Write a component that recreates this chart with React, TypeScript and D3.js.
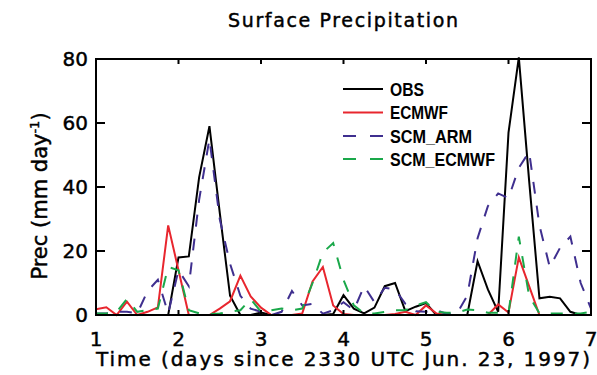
import React from "react";
import * as d3 from "d3";

// 3-hourly samples from day 1 to day 7
const startDay = 1;
const stepDays = 0.125;

const obs = [0, 0, 0, 0, 0, 0, 0, 0, 18, 18.3, 43, 59, 32, 6, 0, 0, 0.8, 0, 0, 0, 0, 0, 0, 0.3, 6.2, 2, 0.5, 2.3, 9, 10, 1.2, 2.6, 3.7, 0, 0, 0, 0, 16.8, 8, 1, 57, 80.5, 42, 5.2, 5.7, 5.2, 1, 0, 0];
const ecmwf = [1.8, 2.4, 0, 4.2, 0, 1, 2.4, 28, 14, 0, 0, 0, 2, 4.3, 12.3, 5.8, 2.3, 0, 0, 0, 0.5, 10.5, 15, 3, 0.3, 0, 0, 0, 0, 0.3, 1, 0, 3, 0.5, 0, 0, 0, 0, 0, 3.3, 0.8, 18, 9, 0, 0, 0, 0, 0, 0];
const scmArm = [0.5, 0.5, 1, 1, 0.5, 7.5, 11, 0.5, 14, 9, 36, 55, 30, 16, 6, 2, 1, 0, 1, 7.5, 3, 3.5, 0.4, 1.5, 4, 1.5, 9, 4, 8.5, 8, 3.5, 1.2, 1, 1.5, 0.3, 0.5, 6, 24, 34, 38, 36.5, 46, 51, 28, 15, 21, 24.5, 10, 2];
const scmEcmwf = [0.5, 0.5, 1, 5, 1, 1.5, 2, 15, 14, 1.5, 0.5, 0.3, 0.5, 1, 1.5, 5, 1, 1.5, 2, 1.5, 2, 10, 19.5, 22.5, 11, 3, 0.5, 0.5, 1, 1.5, 1.5, 3, 4, 1, 0.7, 0.7, 1.7, 1.5, 0.7, 0.7, 0.5, 24.5, 6, 0.5, 0.5, 0.5, 0.5, 0.5, 1];

const xTicks = [1, 2, 3, 4, 5, 6, 7];
const yTicks = [0, 20, 40, 60, 80];

const seriesNames = ["OBS", "ECMWF", "SCM_ARM", "SCM_ECMWF"];
const seriesData = [obs, ecmwf, scmArm, scmEcmwf];
const seriesColors = ["#000000", "#e8262e", "#3f2f8f", "#1aa84a"];
const seriesDash = [null, null, "12,12", "12,12"];
const legendTextLen = [34, 58, 82, 105];

export default function App() {
  const left = 96, right = 591, top = 59, bottom = 315;
  const x = d3.scaleLinear().domain([1, 7]).range([left, right]);
  const y = d3.scaleLinear().domain([0, 80]).range([bottom, top]);
  const line = d3
    .line<number>()
    .x((_, i) => x(startDay + i * stepDays))
    .y((d) => y(d));

  const font = "DejaVu Sans, sans-serif";
  const legendY = [89, 112.5, 136, 159];
  const heavy = { stroke: "#000", strokeWidth: 0.45 };

  return (
    <svg
      width={597}
      height={375}
      style={{ position: "absolute", left: 0, top: 0, background: "#fff" }}
      xmlns="http://www.w3.org/2000/svg"
    >
      <rect x={0} y={0} width={597} height={375} fill="#fff" />
      <text x={343} y={27} fontFamily={font} fontSize={19} textAnchor="middle" textLength={230} fill="#000" {...heavy}>
        Surface Precipitation
      </text>

      {seriesData.map((d, k) => (
        <path
          key={seriesNames[k]}
          d={line(d) || ""}
          fill="none"
          stroke={seriesColors[k]}
          strokeWidth={2}
          strokeDasharray={seriesDash[k] || undefined}
          strokeLinejoin="miter"
        />
      ))}

      {/* frame */}
      <rect x={left} y={top} width={right - left} height={bottom - top} fill="none" stroke="#000" strokeWidth={2} />

      {xTicks.map((t) => (
        <g key={"xt" + t}>
          <line x1={x(t)} x2={x(t)} y1={bottom} y2={bottom - 5} stroke="#000" strokeWidth={2} />
          <line x1={x(t)} x2={x(t)} y1={top} y2={top + 5} stroke="#000" strokeWidth={2} />
          <text x={x(t)} y={346} fontFamily={font} fontSize={20} textAnchor="middle" fill="#000" {...heavy}>
            {t}
          </text>
        </g>
      ))}
      {yTicks.map((t) => (
        <g key={"yt" + t}>
          <line x1={left} x2={left + 9} y1={y(t)} y2={y(t)} stroke="#000" strokeWidth={2} />
          <line x1={right} x2={right - 9} y1={y(t)} y2={y(t)} stroke="#000" strokeWidth={2} />
          <text x={88} y={y(t) + 7} fontFamily={font} fontSize={20} textAnchor="end" fill="#000" {...heavy}>
            {t}
          </text>
        </g>
      ))}

      <text x={343} y={366} fontFamily={font} fontSize={20} textAnchor="middle" textLength={494} fill="#000" {...heavy}>
        Time (days since 2330 UTC Jun. 23, 1997)
      </text>

      <text
        transform="translate(47,196) rotate(-90)"
        fontFamily={font}
        fontSize={21}
        textAnchor="middle"
        fill="#000"
        {...heavy}
      >
        Prec (mm day
        <tspan fontSize={13} dy={-8}>-1</tspan>
        <tspan dy={8}>)</tspan>
      </text>

      {seriesNames.map((name, k) => (
        <g key={"lg" + name}>
          <line
            x1={343}
            x2={383}
            y1={legendY[k]}
            y2={legendY[k]}
            stroke={seriesColors[k]}
            strokeWidth={2}
            strokeDasharray={seriesDash[k] ? "13,14" : undefined}
          />
          <text
            x={390}
            y={legendY[k] + 6.5}
            fontFamily="Liberation Sans, Arial, sans-serif"
            fontWeight="bold"
            fontSize={18}
            textLength={legendTextLen[k]}
            lengthAdjust="spacingAndGlyphs"
            fill="#000"
          >
            {name}
          </text>
        </g>
      ))}
    </svg>
  );
}
